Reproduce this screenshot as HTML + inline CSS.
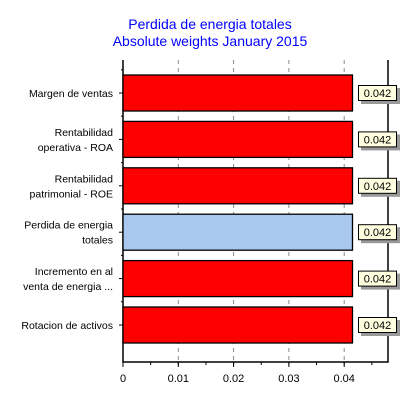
<!DOCTYPE html>
<html><head><meta charset="utf-8"><style>
body{margin:0;background:#fff;}
svg text{font-family:"Liberation Sans",Arial,sans-serif;}
</style></head><body>
<svg id="chart" width="400" height="400" xmlns="http://www.w3.org/2000/svg">
<text x="210" y="29" text-anchor="middle" font-size="14" fill="#0000ff">Perdida de energia totales</text>
<text x="210" y="46" text-anchor="middle" font-size="14" fill="#0000ff">Absolute weights January 2015</text>
<g id="grid"></g><g id="axes"></g><g id="bars"></g>
</svg>
<script>
const categories=[["Margen de ventas"],["Rentabilidad","operativa - ROA"],["Rentabilidad","patrimonial - ROE"],["Perdida de energia","totales"],["Incremento en al","venta de energia  ..."],["Rotacion de activos"]];
const values=[0.0415,0.0415,0.0415,0.0415,0.0415,0.0415];
const valueLabels=["0.042","0.042","0.042","0.042","0.042","0.042"];
const highlight=[false,false,false,true,false,false];
const xTicks=[0,0.01,0.02,0.03,0.04];
const xTickLabels=["0","0.01","0.02","0.03","0.04"];
const NS="http://www.w3.org/2000/svg";
const x0=123,xPer=5530,plotTop=60,plotBottom=362,plotRight=388;
const xs=v=>x0+v*xPer;
const yc=i=>93+46.4*i;
function mk(t,a,p){const e=document.createElementNS(NS,t);for(const k in a)e.setAttribute(k,a[k]);p.appendChild(e);return e;}
const grid=document.getElementById('grid'),bars=document.getElementById('bars'),axes=document.getElementById('axes');
xTicks.forEach((t,i)=>{
 if(t>0){const g=mk('line',{x1:xs(t),x2:xs(t),y1:plotTop,y2:plotBottom,stroke:'#888','stroke-dasharray':'4,4'},grid);
 
 }
 const tx=mk('text',{x:xs(t),y:382,'text-anchor':'middle','font-size':11},axes);tx.textContent=xTickLabels[i];
 
 
});
for(let v=0.005;v<0.048;v+=0.005){mk('line',{x1:xs(v),x2:xs(v),y1:plotBottom,y2:plotBottom+3,stroke:'#000'},axes);}
for(let v=0;v<0.048;v+=0.01){mk('line',{x1:xs(v),x2:xs(v),y1:plotBottom,y2:plotBottom+5,stroke:'#000'},axes);}
const ax=mk('path',{d:`M${x0},${plotTop}V${plotBottom}H${plotRight}V${plotTop}`,fill:'none',stroke:'#000','stroke-width':1.5},axes);


values.forEach((v,i)=>{
 const c=yc(i);
 const r=mk('rect',{x:x0,y:c-18,width:xs(v)-x0,height:36,fill:highlight[i]?'#a9c8ee':'#ff0000',stroke:'#000','stroke-width':1.3},bars);
 
 
 mk('rect',{x:361,y:c-5,width:39,height:16,fill:'#999'},bars);
 const b=mk('rect',{x:358.5,y:c-7.5,width:38,height:15,fill:'#ffffe0',stroke:'#000'},bars);
 
 
 const t=mk('text',{x:377.5,y:c+4,'text-anchor':'middle','font-size':11},bars);t.textContent=valueLabels[i];
 
 
 const lines=categories[i];
 lines.forEach((s,k)=>{const l=mk('text',{x:113,y:c+4+(k-(lines.length-1)/2)*15,'text-anchor':'end','font-size':10.5},axes);l.textContent=s;
 
 });
 mk('line',{x1:x0-4,x2:x0,y1:c,y2:c,stroke:'#000'},axes);
 mk('line',{x1:x0-2,x2:x0,y1:c-23.2,y2:c-23.2,stroke:'#000'},axes);
});
</script>
</body></html>
